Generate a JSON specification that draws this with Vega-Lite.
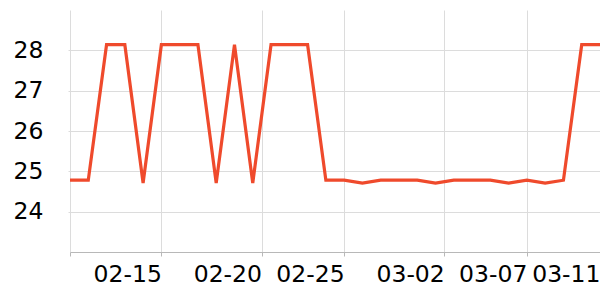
{
  "$schema": "https://vega.github.io/schema/vega-lite/v6.json",
  "width": 530,
  "height": 242,
  "autosize": {"type": "none"},
  "padding": {"left": 70, "top": 10, "right": 0, "bottom": 48},
  "background": "white",
  "config": {"view": {"stroke": null}},
  "data": {
    "values": [
      {"date": "2023-02-10T00:00:00", "value": 24.78},
      {"date": "2023-02-11T00:00:00", "value": 24.78},
      {"date": "2023-02-12T00:00:00", "value": 28.14},
      {"date": "2023-02-13T00:00:00", "value": 28.14},
      {"date": "2023-02-14T00:00:00", "value": 24.71},
      {"date": "2023-02-15T00:00:00", "value": 28.14},
      {"date": "2023-02-16T00:00:00", "value": 28.14},
      {"date": "2023-02-17T00:00:00", "value": 28.14},
      {"date": "2023-02-18T00:00:00", "value": 24.71},
      {"date": "2023-02-19T00:00:00", "value": 28.14},
      {"date": "2023-02-20T00:00:00", "value": 24.71},
      {"date": "2023-02-21T00:00:00", "value": 28.14},
      {"date": "2023-02-22T00:00:00", "value": 28.14},
      {"date": "2023-02-23T00:00:00", "value": 28.14},
      {"date": "2023-02-24T00:00:00", "value": 24.78},
      {"date": "2023-02-25T00:00:00", "value": 24.78},
      {"date": "2023-02-26T00:00:00", "value": 24.71},
      {"date": "2023-02-27T00:00:00", "value": 24.78},
      {"date": "2023-02-28T00:00:00", "value": 24.78},
      {"date": "2023-03-01T00:00:00", "value": 24.78},
      {"date": "2023-03-02T00:00:00", "value": 24.71},
      {"date": "2023-03-03T00:00:00", "value": 24.78},
      {"date": "2023-03-04T00:00:00", "value": 24.78},
      {"date": "2023-03-05T00:00:00", "value": 24.78},
      {"date": "2023-03-06T00:00:00", "value": 24.71},
      {"date": "2023-03-07T00:00:00", "value": 24.78},
      {"date": "2023-03-08T00:00:00", "value": 24.71},
      {"date": "2023-03-09T00:00:00", "value": 24.78},
      {"date": "2023-03-10T00:00:00", "value": 28.14},
      {"date": "2023-03-11T00:00:00", "value": 28.14}
    ]
  },
  "mark": {"type": "line", "color": "#ef4a2c", "strokeWidth": 3.2, "strokeJoin": "miter", "clip": true},
  "encoding": {
    "x": {
      "field": "date",
      "type": "temporal",
      "scale": {
        "domain": [
          {"year": 2023, "month": 2, "date": 10},
          {"year": 2023, "month": 3, "date": 11}
        ],
        "nice": false
      },
      "axis": {
        "title": null,
        "values": [
          {"year": 2023, "month": 2, "date": 10},
          {"year": 2023, "month": 2, "date": 15},
          {"year": 2023, "month": 2, "date": 20, "hours": 11, "minutes": 30},
          {"year": 2023, "month": 2, "date": 25},
          {"year": 2023, "month": 3, "date": 2, "hours": 11, "minutes": 30},
          {"year": 2023, "month": 3, "date": 7},
          {"year": 2023, "month": 3, "date": 11}
        ],
        "labelExpr": "datum.index == 0 ? '' : timeFormat(datum.value, '%m-%d')",
        "grid": true,
        "gridColor": "#dcdcdc",
        "gridWidth": 1,
        "domainColor": "#b8b8b8",
        "domainWidth": 1,
        "tickColor": "#b8b8b8",
        "tickSize": 4,
        "labelAlign": "right",
        "labelBaseline": "top",
        "labelPadding": 6,
        "labelFont": "DejaVu Sans",
        "labelFontSize": 23.5,
        "labelColor": "#000000",
        "labelOverlap": false,
        "labelFlush": false,
        "labelBound": false
      }
    },
    "y": {
      "field": "value",
      "type": "quantitative",
      "scale": {"domain": [23, 29], "nice": false, "zero": false},
      "axis": {
        "title": null,
        "values": [24, 25, 26, 27, 28],
        "grid": true,
        "gridColor": "#dcdcdc",
        "domain": false,
        "tickColor": "#dcdcdc",
        "tickSize": 2,
        "labelPadding": 25,
        "labelFont": "DejaVu Sans",
        "labelFontSize": 23.5,
        "labelColor": "#000000"
      }
    }
  }
}
